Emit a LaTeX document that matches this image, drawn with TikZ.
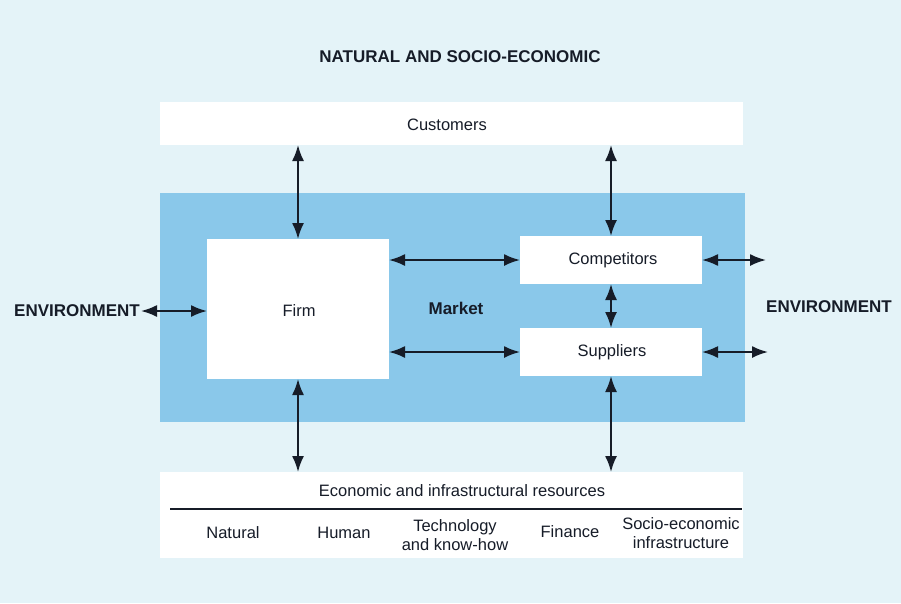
\documentclass[tikz,border=0pt]{standalone}
\usepackage{fontspec}
\setmainfont{Liberation Sans}
\usetikzlibrary{arrows.meta}
\definecolor{bgpale}{HTML}{E4F3F8}
\definecolor{mktblue}{HTML}{8AC8EA}
\definecolor{ink}{HTML}{161C28}
\tikzset{
  box/.style={fill=white, draw=none, inner sep=0pt, outer sep=0pt, anchor=north west},
  lbl/.style={text=ink, inner sep=1pt, font=\fontsize{16.5}{19}\selectfont, align=center},
  blbl/.style={text=ink, inner sep=1pt, font=\fontsize{17}{20}\selectfont\bfseries},
  dbl/.style={draw=ink, line width=1.9pt, {Latex[length=16pt,width=12pt]}-{Latex[length=16pt,width=12pt]}},
}
\begin{document}
\begin{tikzpicture}[x=1pt,y=-1pt]
\fill[bgpale] (0,0) rectangle (901,603);
\useasboundingbox (0,0) rectangle (901,603);
% market area
\node[fill=mktblue, inner sep=0pt, outer sep=0pt, anchor=north west, minimum width=585pt, minimum height=229pt] (market) at (160,193) {};
% boxes
\node[box, minimum width=583pt, minimum height=43pt] (cust) at (160,102) {};
\node[box, minimum width=182pt, minimum height=140pt] (firm) at (207,239) {};
\node[box, minimum width=182pt, minimum height=48pt] (comp) at (520,236) {};
\node[box, minimum width=182pt, minimum height=48pt] (supp) at (520,328) {};
\node[box, minimum width=583pt, minimum height=86pt] (res) at (160,472) {};
% labels
\node[blbl] (nat) at (460,57) {NATURAL AND SOCIO-ECONOMIC};
\node[lbl] (custl) at (447,125) {Customers};
\node[lbl] (firml) at (299,311) {Firm};
\node[blbl] (mktl) at (456,308) {Market};
\node[lbl] (compl) at (613,260) {Competitors};
\node[lbl] (suppl) at (612,352) {Suppliers};
\node[blbl] (envl) at (77,311) {ENVIRONMENT};
\node[blbl] (envr) at (829,307) {ENVIRONMENT};
\node[lbl] (resl) at (462,491) {Economic and infrastructural resources};
\node[lbl] (r1) at (233,533) {Natural};
\node[lbl] (r2) at (344,533) {Human};
\node[lbl] (r3) at (455,535) {Technology\\and know-how};
\node[lbl] (r4) at (570,532) {Finance};
\node[lbl] (r5) at (681,533) {Socio-economic\\infrastructure};
% rule in resources box
\coordinate (ruleA) at (170,509);
\coordinate (ruleB) at (742,509);
\draw[ink, line width=1.2pt] (ruleA) -- (ruleB);
% connectors
\coordinate (ce) at (766,260);
\coordinate (se) at (768,352);
\draw[dbl] (cust.south -| firm.north) -- (firm.north);
\draw[dbl] (cust.south -| comp.north) -- (comp.north);
\draw[dbl] (firm.east |- comp.west) -- (comp.west);
\draw[dbl] (firm.east |- supp.west) -- (supp.west);
\draw[dbl] (comp.south) -- (comp.south |- supp.north);
\draw[dbl] (supp.south) -- (res.north -| supp.south);
\draw[dbl] (firm.south) -- (res.north -| firm.south);
\draw[dbl] (envl.east) -- (firm.west |- envl.east);
\draw[dbl] (comp.east) -- (ce);
\draw[dbl] (supp.east) -- (se);
\end{tikzpicture}
\end{document}
